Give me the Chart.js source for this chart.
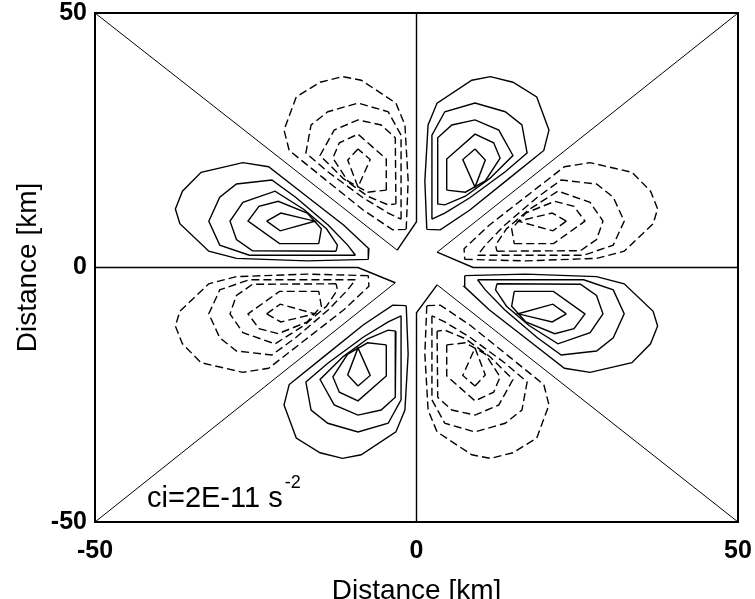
<!DOCTYPE html>
<html>
<head>
<meta charset="utf-8">
<script src="https://cdn.jsdelivr.net/npm/chart.js@4.4.0/dist/chart.umd.min.js"></script>
<style>
  html, body { margin: 0; padding: 0; background: #fff; }
</style>
</head>
<body>
<canvas id="c" width="755" height="599"></canvas>
<script>
// Contour plot, ci=2E-11 s^-2 (km)

const tickValues = [-50, 0, 50];
const xTitle = 'Distance [km]';
const yTitle = 'Distance [km]';
const ciText = 'ci=2E-11 s';
const ciExp = '-2';

// zero contour: axis parts and diagonal parts
const zeroAxes = [
    [[0, 50], [0, 9], [-3, 3.4]],
    [[-50, 0], [-9.1, 0], [-3.3, -3]],
    [[0, -50], [0, -8.9], [3.2, -3.4]],
    [[50, 0], [8.8, 0], [3.2, 3]]
];
const zeroDiagonals = [
    [[-3, 3.4], [-50, 50]],
    [[-3.3, -3], [-50, -50]],
    [[3.2, -3.4], [50, -50]],
    [[3.2, 3], [50, 50]]
];

// positive lobes (solid)
const solidNNE = [
    [[1.6,7.5],[1.3,17],[1.8,28],[3.2,32.3],[8.6,36.8],[11.5,37.5],[15,36.4],[18.7,33.5],[20.6,27],[19.8,23],[14.5,17.6],[8.3,11.3],[3.7,7.4],[1.6,7.5]],
    [[2.4,9.5],[2.4,26],[4.4,30.6],[9.1,32.3],[13.8,30.6],[16.4,28],[17.2,22.5],[13.8,18.8],[8.3,13.7],[4.4,10.7],[2.4,9.5]],
    [[3.2,12.5],[3.3,25.5],[5.5,28],[9.1,29],[12.8,27],[15,22],[11.4,17.5],[7.6,14],[4.4,12.3],[3.2,12.5]],
    [[4.7,15.2],[4.7,21.3],[9.1,26.2],[12,24.5],[13,21.5],[10.7,17],[7.6,14.8],[4.7,15.2]],
    [[9.1,23.3],[10.7,21.1],[9.1,15.8],[7.2,21.2],[9.1,23.3]]
];
const solidESE = [
    [[7.5,-1.6],[17,-1.3],[28,-1.8],[32.3,-3.2],[36.8,-8.6],[37.5,-11.5],[36.4,-15],[33.5,-18.7],[27,-20.6],[23,-19.8],[17.6,-14.5],[11.3,-8.3],[7.4,-3.7],[7.5,-1.6]],
    [[9.5,-2.4],[26,-2.4],[30.6,-4.4],[32.3,-9.1],[30.6,-13.8],[28,-16.4],[22.5,-17.2],[18.8,-13.8],[13.7,-8.3],[10.7,-4.4],[9.5,-2.4]],
    [[12.5,-3.2],[25.5,-3.3],[28,-5.5],[29,-9.1],[27,-12.8],[22,-15],[17.5,-11.4],[14,-7.6],[12.3,-4.4],[12.5,-3.2]],
    [[15.2,-4.7],[21.3,-4.7],[26.2,-9.1],[24.5,-12],[21.5,-13],[17,-10.7],[14.8,-7.6],[15.2,-4.7]],
    [[23.3,-9.1],[21.1,-10.7],[15.8,-9.1],[21.2,-7.2],[23.3,-9.1]]
];
const solidSSW = [
    [[-1.6,-7.5],[-1.3,-17],[-1.8,-28],[-3.2,-32.3],[-8.6,-36.8],[-11.5,-37.5],[-15,-36.4],[-18.7,-33.5],[-20.6,-27],[-19.8,-23],[-14.5,-17.6],[-8.3,-11.3],[-3.7,-7.4],[-1.6,-7.5]],
    [[-2.4,-9.5],[-2.4,-26],[-4.4,-30.6],[-9.1,-32.3],[-13.8,-30.6],[-16.4,-28],[-17.2,-22.5],[-13.8,-18.8],[-8.3,-13.7],[-4.4,-10.7],[-2.4,-9.5]],
    [[-3.2,-12.5],[-3.3,-25.5],[-5.5,-28],[-9.1,-29],[-12.8,-27],[-15,-22],[-11.4,-17.5],[-7.6,-14],[-4.4,-12.3],[-3.2,-12.5]],
    [[-4.7,-15.2],[-4.7,-21.3],[-9.1,-26.2],[-12,-24.5],[-13,-21.5],[-10.7,-17],[-7.6,-14.8],[-4.7,-15.2]],
    [[-9.1,-23.3],[-10.7,-21.1],[-9.1,-15.8],[-7.2,-21.2],[-9.1,-23.3]]
];
const solidWNW = [
    [[-7.5,1.6],[-17,1.3],[-28,1.8],[-32.3,3.2],[-36.8,8.6],[-37.5,11.5],[-36.4,15],[-33.5,18.7],[-27,20.6],[-23,19.8],[-17.6,14.5],[-11.3,8.3],[-7.4,3.7],[-7.5,1.6]],
    [[-9.5,2.4],[-26,2.4],[-30.6,4.4],[-32.3,9.1],[-30.6,13.8],[-28,16.4],[-22.5,17.2],[-18.8,13.8],[-13.7,8.3],[-10.7,4.4],[-9.5,2.4]],
    [[-12.5,3.2],[-25.5,3.3],[-28,5.5],[-29,9.1],[-27,12.8],[-22,15],[-17.5,11.4],[-14,7.6],[-12.3,4.4],[-12.5,3.2]],
    [[-15.2,4.7],[-21.3,4.7],[-26.2,9.1],[-24.5,12],[-21.5,13],[-17,10.7],[-14.8,7.6],[-15.2,4.7]],
    [[-23.3,9.1],[-21.1,10.7],[-15.8,9.1],[-21.2,7.2],[-23.3,9.1]]
];

// negative lobes (dashed)
const dashedNNW = [
    [[-1.6,7.5],[-1.3,17],[-1.8,28],[-3.2,32.3],[-8.6,36.8],[-11.5,37.5],[-15,36.4],[-18.7,33.5],[-20.6,27],[-19.8,23],[-14.5,17.6],[-8.3,11.3],[-3.7,7.4],[-1.6,7.5]],
    [[-2.4,9.5],[-2.4,26],[-4.4,30.6],[-9.1,32.3],[-13.8,30.6],[-16.4,28],[-17.2,22.5],[-13.8,18.8],[-8.3,13.7],[-4.4,10.7],[-2.4,9.5]],
    [[-3.2,12.5],[-3.3,25.5],[-5.5,28],[-9.1,29],[-12.8,27],[-15,22],[-11.4,17.5],[-7.6,14],[-4.4,12.3],[-3.2,12.5]],
    [[-4.7,15.2],[-4.7,21.3],[-9.1,26.2],[-12,24.5],[-13,21.5],[-10.7,17],[-7.6,14.8],[-4.7,15.2]],
    [[-9.1,23.3],[-10.7,21.1],[-9.1,15.8],[-7.2,21.2],[-9.1,23.3]]
];
const dashedENE = [
    [[7.5,1.6],[17,1.3],[28,1.8],[32.3,3.2],[36.8,8.6],[37.5,11.5],[36.4,15],[33.5,18.7],[27,20.6],[23,19.8],[17.6,14.5],[11.3,8.3],[7.4,3.7],[7.5,1.6]],
    [[9.5,2.4],[26,2.4],[30.6,4.4],[32.3,9.1],[30.6,13.8],[28,16.4],[22.5,17.2],[18.8,13.8],[13.7,8.3],[10.7,4.4],[9.5,2.4]],
    [[12.5,3.2],[25.5,3.3],[28,5.5],[29,9.1],[27,12.8],[22,15],[17.5,11.4],[14,7.6],[12.3,4.4],[12.5,3.2]],
    [[15.2,4.7],[21.3,4.7],[26.2,9.1],[24.5,12],[21.5,13],[17,10.7],[14.8,7.6],[15.2,4.7]],
    [[23.3,9.1],[21.1,10.7],[15.8,9.1],[21.2,7.2],[23.3,9.1]]
];
const dashedSSE = [
    [[1.6,-7.5],[1.3,-17],[1.8,-28],[3.2,-32.3],[8.6,-36.8],[11.5,-37.5],[15,-36.4],[18.7,-33.5],[20.6,-27],[19.8,-23],[14.5,-17.6],[8.3,-11.3],[3.7,-7.4],[1.6,-7.5]],
    [[2.4,-9.5],[2.4,-26],[4.4,-30.6],[9.1,-32.3],[13.8,-30.6],[16.4,-28],[17.2,-22.5],[13.8,-18.8],[8.3,-13.7],[4.4,-10.7],[2.4,-9.5]],
    [[3.2,-12.5],[3.3,-25.5],[5.5,-28],[9.1,-29],[12.8,-27],[15,-22],[11.4,-17.5],[7.6,-14],[4.4,-12.3],[3.2,-12.5]],
    [[4.7,-15.2],[4.7,-21.3],[9.1,-26.2],[12,-24.5],[13,-21.5],[10.7,-17],[7.6,-14.8],[4.7,-15.2]],
    [[9.1,-23.3],[10.7,-21.1],[9.1,-15.8],[7.2,-21.2],[9.1,-23.3]]
];
const dashedWSW = [
    [[-7.5,-1.6],[-17,-1.3],[-28,-1.8],[-32.3,-3.2],[-36.8,-8.6],[-37.5,-11.5],[-36.4,-15],[-33.5,-18.7],[-27,-20.6],[-23,-19.8],[-17.6,-14.5],[-11.3,-8.3],[-7.4,-3.7],[-7.5,-1.6]],
    [[-9.5,-2.4],[-26,-2.4],[-30.6,-4.4],[-32.3,-9.1],[-30.6,-13.8],[-28,-16.4],[-22.5,-17.2],[-18.8,-13.8],[-13.7,-8.3],[-10.7,-4.4],[-9.5,-2.4]],
    [[-12.5,-3.2],[-25.5,-3.3],[-28,-5.5],[-29,-9.1],[-27,-12.8],[-22,-15],[-17.5,-11.4],[-14,-7.6],[-12.3,-4.4],[-12.5,-3.2]],
    [[-15.2,-4.7],[-21.3,-4.7],[-26.2,-9.1],[-24.5,-12],[-21.5,-13],[-17,-10.7],[-14.8,-7.6],[-15.2,-4.7]],
    [[-23.3,-9.1],[-21.1,-10.7],[-15.8,-9.1],[-21.2,-7.2],[-23.3,-9.1]]
];

const FONT = '"Liberation Sans", Arial, Helvetica, sans-serif';

function lineSets(lines, opts) {
    return lines.map(line => ({
        data: line.map(p => ({ x: p[0], y: p[1] })),
        showLine: true,
        pointRadius: 0,
        tension: 0,
        fill: false,
        borderColor: '#000',
        borderWidth: opts.width,
        borderDash: opts.dash || []
    }));
}

const datasets = [
    ...lineSets(zeroDiagonals, { width: 1 }),
    ...lineSets(zeroAxes, { width: 1.4 }),
    ...[solidNNE, solidESE, solidSSW, solidWNW].flatMap(l => lineSets(l, { width: 1.4 })),
    ...[dashedNNW, dashedENE, dashedSSE, dashedWSW].flatMap(l => lineSets(l, { width: 1.4, dash: [8, 4] }))
];

// frame round the plot and the ci note
const framePlugin = {
    id: 'frame',
    afterDatasetsDraw(chart) {
        const { ctx, chartArea: a } = chart;
        ctx.save();
        ctx.strokeStyle = '#000';
        ctx.lineWidth = 2;
        ctx.strokeRect(a.left, a.top, a.right - a.left, a.bottom - a.top);

        ctx.fillStyle = '#000';
        ctx.textBaseline = 'alphabetic';
        ctx.font = '29px ' + FONT;
        const x0 = a.left + 52, y0 = a.bottom - 15;
        ctx.fillText(ciText, x0, y0);
        const w = ctx.measureText(ciText).width;
        ctx.font = '18px ' + FONT;
        ctx.fillText(ciExp, x0 + w + 2, y0 - 19);
        ctx.restore();
    }
};

new Chart(document.getElementById('c'), {
    type: 'scatter',
    data: { datasets },
    options: {
        responsive: false,
        animation: false,
        layout: { padding: { top: 13, right: 17, left: 0, bottom: 0 } },
        plugins: { legend: { display: false }, tooltip: { enabled: false } },
        scales: {
            x: {
                type: 'linear', min: -50, max: 50,
                afterBuildTicks: s => { s.ticks = tickValues.map(v => ({ value: v })); },
                afterFit: s => { s.height = 77; s.paddingLeft = 0; s.paddingRight = 0; },
                grid: { display: false, drawTicks: false },
                border: { display: false },
                ticks: { color: '#000', padding: 14, maxRotation: 0, font: { family: FONT, size: 25, weight: 'bold' } },
                title: { display: true, text: xTitle, color: '#000', padding: { top: 0, bottom: -9 }, font: { family: FONT, size: 28 } }
            },
            y: {
                type: 'linear', min: -50, max: 50,
                afterBuildTicks: s => { s.ticks = tickValues.map(v => ({ value: v })); },
                afterFit: s => { s.width = 95; s.paddingTop = 0; s.paddingBottom = 0; },
                grid: { display: false, drawTicks: false },
                border: { display: false },
                ticks: { color: '#000', padding: 8, font: { family: FONT, size: 25, weight: 'bold' } },
                title: { display: true, text: yTitle, color: '#000', padding: { top: 11, bottom: 0 }, font: { family: FONT, size: 28 } }
            }
        }
    },
    plugins: [framePlugin]
});
</script>
</body>
</html>
